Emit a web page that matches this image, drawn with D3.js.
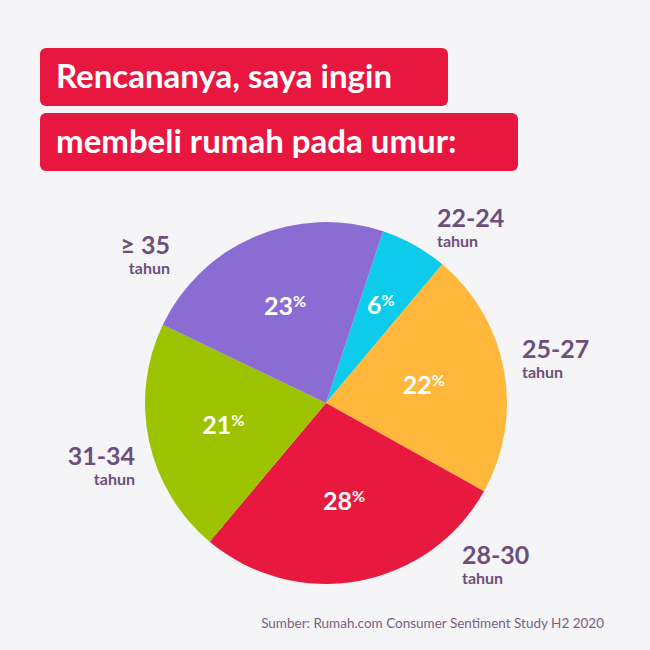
<!DOCTYPE html>
<html><head><meta charset="utf-8">
<script src="https://cdn.jsdelivr.net/npm/d3@7"></script>
<style>body{margin:0;background:#f5f4f7}</style>
</head><body><svg id="c"></svg>
<script>
const labels = ["22-24", "25-27", "28-30", "31-34", "≥ 35"];
const values = [6, 22, 28, 21, 23];
const colors = ["#0dcbea", "#ffb83c", "#e8183f", "#9dc300", "#8b6cd3"];
const titleLines = ["Rencananya, saya ingin", "membeli rumah pada umur:"];
const source = "Sumber: Rumah.com Consumer Sentiment Study H2 2020";

const W = 650, H = 650, cx = 326, cy = 403, R = 181;
const svg = d3.select('#c').attr('width', W).attr('height', H);
svg.append('rect').attr('width', W).attr('height', H).attr('fill', '#f5f4f7');

const font = 'Lato, "Open Sans", sans-serif';
// title boxes
const boxW = [408, 478];
titleLines.forEach((t, i) => {
  const y = 48 + i * 65;
  svg.append('rect').attr('x', 40).attr('y', y).attr('width', boxW[i]).attr('height', 58)
    .attr('rx', 6).attr('fill', '#e8173f');
  svg.append('text').text(t).attr('x', 56).attr('y', y + 40)
    .attr('font-family', font).attr('font-weight', 'bold').attr('font-size', 33).attr('fill', '#fff');
});

const start = 18.4 * Math.PI / 180;
const pie = d3.pie().sort(null).startAngle(start).endAngle(start + 2 * Math.PI);
const arcs = pie(values);
const arc = d3.arc().innerRadius(0).outerRadius(R);
const g = svg.append('g').attr('transform', `translate(${cx},${cy})`);
g.selectAll('path').data(arcs).enter().append('path')
  .attr('d', arc).attr('fill', (d, i) => colors[i]);

const inner = d3.arc().innerRadius(0).outerRadius(R * 1.0);
const pctR = [R * 0.62, R * 0.55, R * 0.55, R * 0.58, R * 0.58];
arcs.forEach((d, i) => {
  const a = (d.startAngle + d.endAngle) / 2;
  const r = pctR[i];
  const t = g.append('text').attr('x', Math.sin(a) * r).attr('y', -Math.cos(a) * r + 9)
    .attr('text-anchor', 'middle').attr('font-family', font).attr('font-weight', 'bold')
    .attr('fill', '#fff').attr('font-size', 25);
  t.append('tspan').text(d.data);
  t.append('tspan').text('%').attr('font-size', 16).attr('dy', -8);
});

// outer labels
const labelPos = [[437, 227, 'start'], [522, 358, 'start'], [462, 564, 'start'], [135, 465, 'end'], [170, 254, 'end']];
labels.forEach((l, i) => {
  const [x, y, anc] = labelPos[i];
  const t = svg.append('text').attr('x', x).attr('y', y).attr('text-anchor', anc)
    .attr('font-family', font).attr('font-weight', 'bold').attr('fill', '#6d4f7c');
  t.append('tspan').text(l).attr('font-size', 25);
  svg.append('text').text('tahun').attr('x', x + (anc === 'end' ? 0 : 0)).attr('y', y + 20)
    .attr('text-anchor', anc).attr('font-family', font).attr('font-weight', 'bold')
    .attr('font-size', 16).attr('fill', '#6d4f7c');
});

svg.append('text').text(source).attr('x', 604).attr('y', 628).attr('text-anchor', 'end')
  .attr('font-family', font).attr('font-size', 13.5).attr('fill', '#7a5f88');
</script></body></html>
